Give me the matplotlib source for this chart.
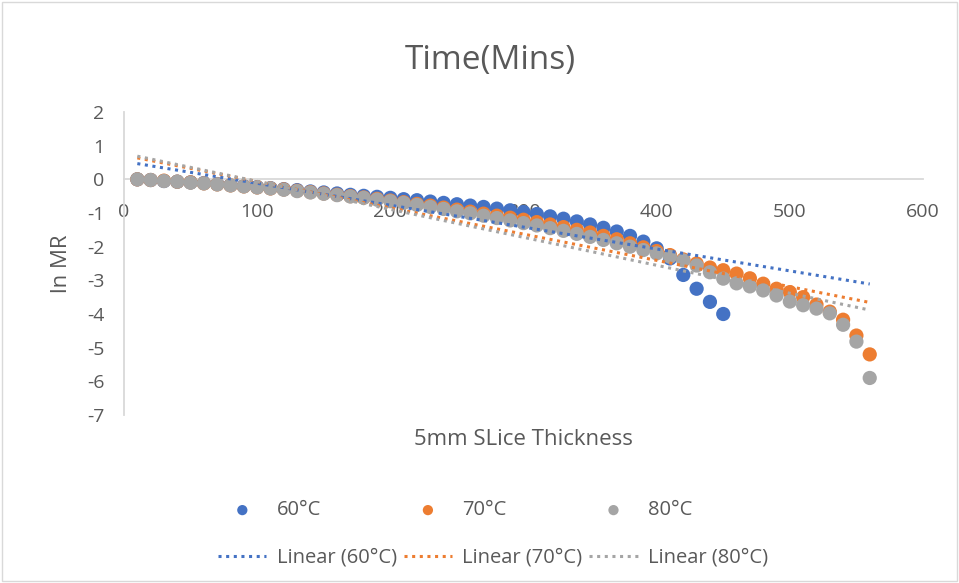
import numpy as np
import matplotlib.pyplot as plt
from matplotlib.patches import Rectangle

plt.rcParams['font.family'] = ['Open Sans', 'DejaVu Sans']
plt.rcParams['axes.unicode_minus'] = False

## data: time (mins) vs ln MR
time = np.arange(10, 570, 10)

ln_mr_60 = [0, -0.02, -0.05, -0.07, -0.09, -0.11, -0.14, -0.17, -0.2, -0.23,
            -0.26, -0.29, -0.32, -0.36, -0.39, -0.42, -0.46, -0.49, -0.52, -0.55,
            -0.59, -0.62, -0.66, -0.7, -0.74, -0.78, -0.82, -0.87, -0.92, -0.97,
            -1.03, -1.1, -1.17, -1.25, -1.34, -1.44, -1.55, -1.68, -1.85, -2.05,
            -2.35, -2.84, -3.25, -3.64, -4.0]

ln_mr_70 = [0, -0.02, -0.04, -0.07, -0.09, -0.12, -0.15, -0.18, -0.21, -0.24,
            -0.27, -0.3, -0.34, -0.38, -0.42, -0.46, -0.5, -0.54, -0.58, -0.63,
            -0.68, -0.73, -0.78, -0.84, -0.9, -0.96, -1.02, -1.08, -1.14, -1.2,
            -1.27, -1.34, -1.42, -1.5, -1.58, -1.68, -1.78, -1.9, -2.02, -2.13,
            -2.25, -2.38, -2.5, -2.62, -2.7, -2.8, -2.94, -3.1, -3.25, -3.35,
            -3.5, -3.72, -3.93, -4.17, -4.64, -5.2]

ln_mr_80 = [0, -0.02, -0.05, -0.07, -0.1, -0.12, -0.15, -0.18, -0.21, -0.24,
            -0.27, -0.31, -0.35, -0.39, -0.43, -0.47, -0.51, -0.55, -0.6, -0.65,
            -0.7, -0.76, -0.82, -0.88, -0.95, -1.01, -1.08, -1.15, -1.22, -1.3,
            -1.37, -1.45, -1.53, -1.62, -1.71, -1.8, -1.9, -2.0, -2.1, -2.2,
            -2.3, -2.41, -2.56, -2.76, -2.95, -3.09, -3.18, -3.3, -3.45, -3.63,
            -3.74, -3.84, -3.98, -4.32, -4.82, -5.9]

series = [("60°C", ln_mr_60, "#4472C4"),
          ("70°C", ln_mr_70, "#ED7D31"),
          ("80°C", ln_mr_80, "#A5A5A5")]

text_col = "#595959"
axis_col = "#D9D9D9"

fig = plt.figure(figsize=(9.59, 5.83), dpi=100)
ax = fig.add_axes([124 / 959, 1 - 415 / 583, 799 / 959, 303 / 583])

handles = []
for i, (name, vals, col) in enumerate(series):
    vals = np.array(vals)
    xs = time[:len(vals)]
    sc = ax.scatter(xs, vals, s=105, color=col, edgecolors='none',
                    zorder=2 + i, label=name)
    # excel style linear trendline over the whole time range
    k, b = np.polyfit(xs, vals, 1)
    xt = np.array([time[0], time[-1]])
    ln, = ax.plot(xt, k * xt + b, color=col, lw=2.2,
                  linestyle=(0, (1, 1.5)), zorder=6 + i,
                  label="Linear (" + name + ")")
    handles += [sc, ln]

ax.set_xlim(0, 600)
ax.set_ylim(-7, 2)
ax.set_xticks(range(0, 601, 100))
ax.set_yticks(range(-7, 3))

for s in ['top', 'right']:
    ax.spines[s].set_visible(False)
ax.spines['bottom'].set_position(('data', 0))
ax.spines['bottom'].set_color(axis_col)
ax.spines['left'].set_color(axis_col)
ax.spines['bottom'].set_linewidth(1.3)
ax.spines['left'].set_linewidth(1.3)
ax.tick_params(axis='x', length=0, pad=17, labelsize=14, labelcolor=text_col)
ax.tick_params(axis='y', length=0, pad=14, labelsize=14, labelcolor=text_col)

ax.set_xlabel("5mm SLice Thickness", fontsize=16, color=text_col)
ax.xaxis.set_label_coords(0.5, -0.046)
ax.set_ylabel("ln MR", fontsize=16, color=text_col)
ax.yaxis.set_label_coords(-0.0776, 0.5)
ax.yaxis.label.set_verticalalignment('center')

fig.text(490 / 959, 1 - 60 / 583, "Time(Mins)", ha='center', va='center',
         fontsize=24, color=text_col)

leg = fig.legend(handles=handles, ncol=3, loc='center',
                 bbox_to_anchor=(493 / 959, 1 - 534 / 583),
                 frameon=False, fontsize=14.5, labelcolor=text_col,
                 handlelength=2.4, handletextpad=0.5, columnspacing=0.35,
                 labelspacing=1.35, markerscale=0.72)

fig.patches.append(Rectangle((0.002, 0.003), 0.996, 0.994, transform=fig.transFigure,
                             fill=False, edgecolor=axis_col, lw=1))

fig.savefig("out.png", dpi=100)
